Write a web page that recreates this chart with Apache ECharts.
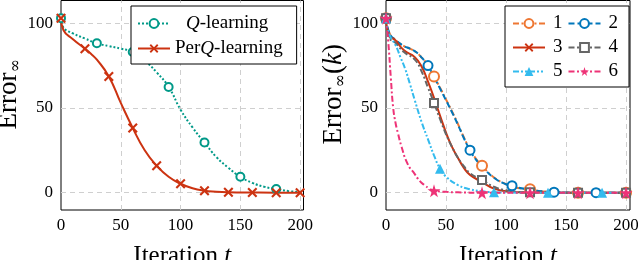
<!DOCTYPE html>
<html><head><meta charset="utf-8">
<script src="https://cdn.jsdelivr.net/npm/echarts@6/dist/echarts.min.js"></script>
<style>html,body{margin:0;padding:0;background:#fff}#c{width:638px;height:260px}</style>
</head><body><div id="c"></div><script>
// ---- data ----
const xTicks = [0, 50, 100, 150, 200];
const yTicks = [0, 50, 100];
// left panel
const qT    = [0, 2, 10, 20, 30, 40, 50, 60, 70, 80, 90, 100, 110, 120, 130, 140, 150, 160, 170, 180, 190, 200];
const qV    = [103, 97.5, 94, 91, 88.2, 86.5, 85, 83, 78, 71, 62.4, 49, 38.5, 29.6, 21, 14.7, 9.4, 5.8, 3.5, 2.2, 1, 0.3];
const qMarks = [0, 30, 60, 90, 120, 150, 180];
const pT    = [0, 2, 10, 20, 25, 30, 40, 50, 60, 70, 80, 90, 100, 110, 120, 130, 140, 160, 180, 200];
const pV    = [103, 96, 90.5, 85, 82, 78.5, 68.6, 53, 38.2, 25, 15.9, 9.4, 5.3, 2.6, 1.2, 0.6, 0.3, 0.1, 0, 0];
const pMarks = [0, 20, 40, 60, 80, 100, 120, 140, 160, 180, 200];
// right panel
const s1T = [0, 3, 8, 15, 20, 25, 30, 35, 40, 45, 50, 55, 60, 65, 70, 75, 80, 90, 100, 105, 110, 120, 130, 140, 160, 200];
const s1V = [103, 94, 90, 86.5, 85, 83, 79.5, 75, 68.6, 62, 55, 48, 40.5, 32.5, 25.5, 20, 15.9, 9, 5, 3.8, 2.8, 2, 0.8, 0.3, 0, 0];
const s1Marks = [0, 40, 80, 120, 160, 200];
const s2T = [0, 3, 8, 15, 20, 25, 30, 35, 40, 45, 50, 55, 60, 65, 70, 75, 80, 90, 100, 105, 110, 120, 130, 140, 175, 200];
const s2V = [103, 94, 90, 86.5, 85, 83, 79.5, 75, 68.3, 61.5, 54.5, 47.5, 40, 32, 25.1, 19.5, 15.5, 8.8, 5, 4.1, 3, 1.8, 0.8, 0.3, 0, 0];
const s2Marks = [0, 35, 70, 105, 140, 175];
const s3T = [0, 3, 7, 15, 24, 30, 35, 40, 45, 50, 55, 60, 65, 70, 80, 90, 100, 110, 120, 160, 200];
const s3V = [103, 92, 90.5, 84, 80, 74, 65.5, 56, 45.5, 35.5, 27, 20.5, 14.5, 10.5, 6.3, 2.4, 0.9, 0.3, 0.1, 0, 0];
const s3Marks = [0, 120, 160, 200];
const s4T = [0, 3, 7, 15, 24, 30, 35, 40, 45, 50, 55, 60, 65, 70, 80, 90, 100, 110, 120, 160, 200];
const s4V = [103, 91, 89, 83, 78.5, 71, 62, 53, 43.5, 34.5, 27, 20.5, 15.5, 11.5, 7.5, 3.5, 1.4, 0.5, 0.2, 0, 0];
const s4Marks = [0, 40, 80, 120, 160, 200];
const s5T = [0, 3, 8, 12, 16, 20, 24, 30, 35, 40, 45, 50, 60, 70, 80, 90, 100, 135, 180, 200];
const s5V = [103, 93, 87, 80, 73, 64, 54.5, 41, 31.5, 22, 14.2, 9.5, 4.5, 2, 0.8, 0.3, 0.1, 0, 0, 0];
const s5Marks = [0, 45, 90, 135, 180];
const s6T = [0, 2, 4, 6, 8, 10, 13, 18, 24, 28, 32, 36, 40, 50, 60, 80, 120, 160, 200];
const s6V = [103, 88, 68, 50, 41, 35, 27, 17, 11, 7, 4.5, 2.5, 1.2, 0.5, 0.2, 0, 0, 0, 0];
const s6Marks = [0, 40, 80, 120, 160, 200];

// ---- helpers ----
function pts(ts, vs, marks) {
  return ts.map((t, i) => marks.indexOf(t) >= 0 ? [t, vs[i]] : { value: [t, vs[i]], symbol: 'none' });
}
const FONT = 'Liberation Serif';
const C = { teal: '#009988', red: '#CC3311', orange: '#EE7733', blue: '#0077BB', gray: '#666666', cyan: '#33BBEE', mag: '#EE3377' };
const XSYM = 'path://M1.5,0 L5,3.5 L8.5,0 L10,1.5 L6.5,5 L10,8.5 L8.5,10 L5,6.5 L1.5,10 L0,8.5 L3.5,5 L0,1.5 Z';
const STAR = 'path://M50,0 L61,35 L98,35 L68,57 L79,91 L50,70 L21,91 L32,57 L2,35 L39,35 Z';
const gridLine = { color: '#cfcfcf', type: [5, 4], width: 1 };

function gridSeries(xi) {
  return {
    type: 'line', xAxisIndex: xi, yAxisIndex: xi, data: [], silent: true, z: 0,
    markLine: {
      silent: true, symbol: 'none', z: 1, label: { show: false },
      lineStyle: gridLine, animation: false,
      data: xTicks.filter(v => v > 0).map(v => ({ xAxis: v })).concat(yTicks.map(v => ({ yAxis: v })))
    }
  };
}
function ser(name, xi, ts, vs, marks, color, dash, symbol, size, bw) {
  return {
    name, type: 'line', xAxisIndex: xi, yAxisIndex: xi,
    data: pts(ts, vs, marks), smooth: 0.5,
    symbol, symbolSize: size, color,
    lineStyle: { color, width: 2, type: dash },
    itemStyle: { color, borderColor: color, borderWidth: bw || 0 },
    z: 3, animation: false
  };
}
function xAxis(gi, max) {
  return {
    type: 'value', gridIndex: gi, min: 0, max,
    splitLine: { show: false }, axisTick: { show: false },
    axisLine: { show: false },
    axisLabel: { customValues: xTicks, color: '#000', fontFamily: FONT, fontSize: 17, margin: 7 },
    name: '{a|Iteration }{i|t}', nameLocation: 'middle', nameGap: 34,
    nameTextStyle: {
      rich: {
        a: { fontFamily: FONT, fontSize: 25, color: '#000' },
        i: { fontFamily: FONT, fontSize: 25, fontStyle: 'italic', color: '#000' }
      }
    }
  };
}
function yAxis(gi, name, gap) {
  return {
    type: 'value', gridIndex: gi, min: -10.2, max: 113.4,
    splitLine: { show: false }, axisTick: { show: false },
    axisLine: { show: false },
    axisLabel: { customValues: yTicks, color: '#000', fontFamily: FONT, fontSize: 17, margin: 8 },
    name, nameLocation: 'middle', nameGap: gap,
    nameTextStyle: {
      padding: [0, 0, 0, 22],
      rich: {
        a: { fontFamily: FONT, fontSize: 27, color: '#000' },
        s: { fontFamily: 'DejaVu Serif', fontSize: 16, color: '#000', padding: [14, 0, 0, 0] },
        i: { fontFamily: FONT, fontSize: 27, fontStyle: 'italic', color: '#000' }
      }
    }
  };
}
const legendText = {
  fontFamily: FONT, fontSize: 19, color: '#000',
  rich: {
    sp: { width: 11, fontFamily: FONT, fontSize: 19 },
    t: { fontFamily: FONT, fontSize: 19, color: '#000' },
    q: { fontFamily: FONT, fontSize: 19, fontStyle: 'italic', color: '#000' }
  }
};

const chart = echarts.init(document.getElementById('c'), null, { renderer: 'canvas' });
chart.setOption({
  animation: false,
  backgroundColor: '#fff',
  grid: [
    { left: 61, top: 0.5, width: 242.5, height: 209.5, show: true, borderColor: '#000', borderWidth: 1, backgroundColor: 'transparent', outerBoundsMode: 'none', containLabel: false },
    { left: 386, top: 0.5, width: 244, height: 209.5, show: true, borderColor: '#000', borderWidth: 1, backgroundColor: 'transparent', outerBoundsMode: 'none', containLabel: false }
  ],
  xAxis: [xAxis(0, 202.8), xAxis(1, 203.3)],
  yAxis: [yAxis(0, '{a|Error}{s|∞}', 35), yAxis(1, '{a|Error}{s|∞}{a|(}{i|k}{a|)}', 35)],
  legend: [
    {
      data: ['Q-learning', 'PerQ-learning'], orient: 'vertical', left: 131, top: 6,
      padding: [8, 14, 6, 6], itemGap: 6, itemWidth: 32, itemHeight: 11,
      backgroundColor: '#fff', borderColor: '#000', borderWidth: 1, borderRadius: 0,
      textStyle: legendText,
      formatter: n => n === 'Q-learning' ? '{sp| }{q|Q}{t|-learning}' : '{t|Per}{q|Q}{t|-learning}'
    },
    {
      data: ['1', '2', '3', '4', '5', '6'], orient: 'horizontal', left: 505, top: 6, width: 110,
      padding: [8, 11, 6, 7], itemGap: 5, itemWidth: 32, itemHeight: 11,
      backgroundColor: '#fff', borderColor: '#000', borderWidth: 1, borderRadius: 0,
      textStyle: { fontFamily: FONT, fontSize: 19, color: '#000', padding: [0, 0, 0, 3] }
    }
  ],
  series: [
    gridSeries(0), gridSeries(1),
    ser('Q-learning', 0, qT, qV, qMarks, C.teal, [2, 2], 'emptyCircle', 8, 2.2),
    ser('PerQ-learning', 0, pT, pV, pMarks, C.red, 'solid', XSYM, 10),
    ser('1', 1, s1T, s1V, s1Marks, C.orange, [6, 2.5, 2, 2.5], 'emptyCircle', 10, 2),
    ser('2', 1, s2T, s2V, s2Marks, C.blue, [6, 3], 'emptyCircle', 9, 3.8),
    ser('3', 1, s3T, s3V, s3Marks, C.red, 'solid', XSYM, 9),
    ser('4', 1, s4T, s4V, s4Marks, C.gray, [6, 2.5, 2, 2.5], 'emptyRect', 8, 3.5),
    ser('5', 1, s5T, s5V, s5Marks, C.cyan, [6, 2, 2, 2, 2, 2], 'triangle', 10),
    ser('6', 1, s6T, s6V, s6Marks, C.mag, [6, 2.5, 2, 2.5], STAR, 13)
  ]
});
</script></body></html>
